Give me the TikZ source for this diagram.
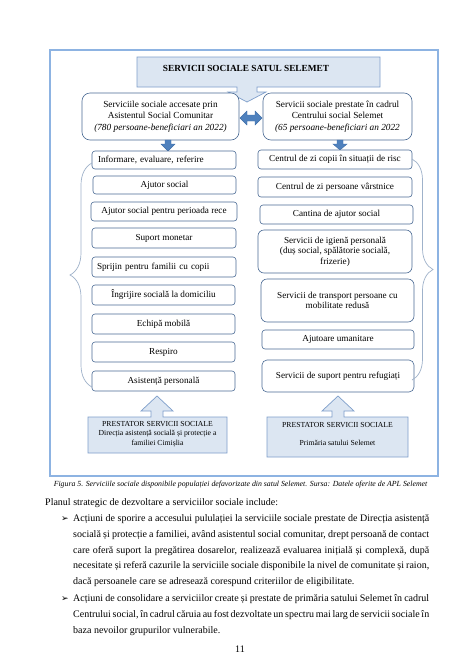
\documentclass[tikz,border=0pt]{standalone}
\usepackage{fontspec}
\setmainfont{Liberation Serif}
\newfontfamily\dejavu{DejaVu Sans}
\usetikzlibrary{decorations.pathreplacing}
\definecolor{frameblue}{HTML}{8DB3E2}
\definecolor{lightfill}{HTML}{DCE6F2}
\definecolor{calloutline}{HTML}{7F9FCB}
\definecolor{boxline}{HTML}{4A6B94}
\definecolor{arrowblue}{HTML}{4F81BD}
\definecolor{arrowline}{HTML}{3E6EA8}
\definecolor{bracegray}{HTML}{9FB2CA}
\tikzset{
  svcbox/.style={draw=boxline, line width=0.6pt, rounded corners=3pt, fill=white,
    font=\fontsize{9.2}{10.5}\selectfont, inner sep=0pt, align=center},
  headbox/.style={draw=boxline, line width=0.6pt, rounded corners=8pt, fill=white,
    font=\fontsize{9.3}{11.6}\selectfont, inner sep=0pt, align=center},
  callout/.style={draw=calloutline, line width=0.7pt, fill=lightfill},
  blockarrow/.style={draw=arrowline, line width=0.4pt, fill=arrowblue},
  bracestyle/.style={draw=bracegray, line width=0.7pt, decorate},
  prtext/.style={font=\fontsize{7.7}{9.6}\selectfont, inner sep=0pt, align=center},
  bodyline/.style={font=\fontsize{10}{12}\selectfont, inner sep=0pt, anchor=base west},
  bulletmark/.style={font=\dejavu\fontsize{9}{10}\selectfont, inner sep=0pt, anchor=base west},
}
\begin{document}
\begin{tikzpicture}[x=1pt, y=-1pt]
\useasboundingbox (0,0) rectangle (474,670);
\fill[white] (0,0) rectangle (474,670);

% outer frame
\draw[frameblue, line width=1.1pt] (50,50) rectangle (438,476);

% title callout
\path[callout] (137,57) -- (380,57) -- (380,87) -- (257,87) -- (257,92) -- (266,92)
  -- (247,102) -- (228,92) -- (237,92) -- (237,87) -- (137,87) -- cycle;
\node[font=\bfseries\fontsize{9.3}{10}\selectfont, inner sep=0pt] (title) at (246,68.5)
  {SERVICII SOCIALE SATUL SELEMET};

% header boxes
\node[headbox, minimum width=157pt, minimum height=47pt] (lh) at (160.5,116.5)
  {Serviciile sociale accesate prin\\Asistentul Social Comunitar\\\textit{(780 persoane-beneficiari an 2022)}};
\node[headbox, minimum width=149pt, minimum height=47pt] (rh) at (337.5,116.5)
  {Servicii sociale prestate în cadrul\\Centrului social Selemet\\\textit{(65 persoane-beneficiari an 2022}};

% double arrow between headers
\path[blockarrow] (240,118) -- (247,111) -- (247,115) -- (255,115) -- (255,111) -- (262,118)
  -- (255,125) -- (255,121) -- (247,121) -- (247,125) -- cycle;

% small down arrows
\path[blockarrow] (165,140) -- (171,140) -- (171,144) -- (175,144) -- (168,151) -- (161,144) -- (165,144) -- cycle;
\path[blockarrow] (337,140) -- (343,140) -- (343,144) -- (347,144) -- (340,150) -- (333,144) -- (337,144) -- cycle;

% left list
\node[svcbox, minimum width=144pt, minimum height=18pt, text width=132pt, align=left] (l1) at (164,160) {Informare, evaluare, referire};
\node[svcbox, minimum width=143pt, minimum height=18pt] (l2) at (164.5,185) {Ajutor social};
\node[svcbox, minimum width=146pt, minimum height=19pt] (l3) at (164,211.5) {Ajutor social pentru perioada rece};
\node[svcbox, minimum width=144pt, minimum height=20pt] (l4) at (164,238) {Suport monetar};
\node[svcbox, minimum width=144pt, minimum height=20pt, text width=134pt, align=left] (l5) at (164,267) {Sprijin pentru familii cu copii};
\node[svcbox, minimum width=143pt, minimum height=20pt] (l6) at (163.5,295) {Îngrijire socială la domiciliu};
\node[svcbox, minimum width=143pt, minimum height=20pt] (l7) at (163.5,324) {Echipă mobilă};
\node[svcbox, minimum width=143pt, minimum height=20pt] (l8) at (163.5,352) {Respiro};
\node[svcbox, minimum width=143pt, minimum height=20pt] (l9) at (163.5,381) {Asistență personală};

% right list
\node[svcbox, minimum width=154pt, minimum height=19pt] (r1) at (335,159.5) {Centrul de zi copii în situații de risc};
\node[svcbox, minimum width=154pt, minimum height=20pt] (r2) at (335,187) {Centrul de zi persoane vârstnice};
\node[svcbox, minimum width=153pt, minimum height=19pt] (r3) at (336.5,214.5) {Cantina de ajutor social};
\node[svcbox, minimum width=154pt, minimum height=43pt, rounded corners=6pt] (r4) at (335,251.5) {Servicii de igienă personală\\(duș social, spălătorie socială,\\frizerie)};
\node[svcbox, minimum width=153pt, minimum height=43pt, rounded corners=6pt] (r5) at (337.5,300.5) {Servicii de transport persoane cu\\mobilitate redusă};
\node[svcbox, minimum width=152pt, minimum height=19pt] (r6) at (338,339.5) {Ajutoare umanitare};
\node[svcbox, minimum width=152pt, minimum height=32pt, rounded corners=5pt] (r7) at (338,376) {Servicii de suport pentru refugiați};

% braces
\draw[bracestyle, decoration={brace, amplitude=22pt}] (92,387) -- (92,163);
\draw[bracestyle, decoration={brace, amplitude=21pt}] (412,159) -- (412,380);

% prestator callouts
\path[callout] (88,417) -- (151,417) -- (151,411) -- (141,411) -- (157,396) -- (173,411)
  -- (163,411) -- (163,417) -- (227,417) -- (227,453) -- (88,453) -- cycle;
\node[prtext] (p1) at (157.5,434) {PRESTATOR SERVICII SOCIALE\\Direcția asistență socială și protecție a\\familiei Cimișlia};
\path[callout] (267,417) -- (332,417) -- (332,411) -- (322,411) -- (338,396) -- (354,411)
  -- (344,411) -- (344,417) -- (408,417) -- (408,457) -- (267,457) -- cycle;
\node[prtext] (p2a) at (337.5,425.5) {PRESTATOR SERVICII SOCIALE};
\node[prtext] (p2b) at (337.5,443) {Primăria satului Selemet};

% caption
\node[font=\itshape\fontsize{7.8}{9}\selectfont, inner sep=0pt] (cap) at (240.5,485)
  {Figura 5. Serviciile sociale disponibile populației defavorizate din satul Selemet. Sursa: Datele oferite de APL Selemet};

% body text
\node[bodyline] (t0) at (45,505) {Planul strategic de dezvoltare a serviciilor sociale include:};
\node[bulletmark] (b1) at (61,521.5) {➢};
\node[bodyline] (t1) at (73,521.5) {\makebox[356pt][s]{Acțiuni de sporire a accesului pululației la serviciile sociale prestate de Direcția asistență}};
\node[bodyline] (t2) at (73,537.5) {\makebox[356pt][s]{socială și protecție a familiei, având asistentul social comunitar, drept persoană de contact}};
\node[bodyline] (t3) at (73,553) {\makebox[356pt][s]{care oferă suport la pregătirea dosarelor, realizează evaluarea inițială și complexă, după}};
\node[bodyline] (t4) at (73,568.5) {\makebox[356pt][s]{necesitate și referă cazurile la serviciile sociale disponibile la nivel de comunitate și raion,}};
\node[bodyline] (t5) at (73,584) {dacă persoanele care se adresează corespund criteriilor de eligibilitate.};
\node[bulletmark] (b2) at (61,601.5) {➢};
\node[bodyline] (t6) at (73,601.5) {\makebox[356pt][s]{Acțiuni de consolidare a serviciilor create și prestate de primăria satului Selemet în cadrul}};
\node[bodyline] (t7) at (73,617.5) {\makebox[356pt][s]{Centrului social, în cadrul căruia au fost dezvoltate un spectru mai larg de servicii sociale în}};
\node[bodyline] (t8) at (73,633.5) {baza nevoilor grupurilor vulnerabile.};
\node[font=\fontsize{10}{12}\selectfont, inner sep=0pt, anchor=base] (pg) at (240,652.5) {11};
\end{tikzpicture}
\end{document}
